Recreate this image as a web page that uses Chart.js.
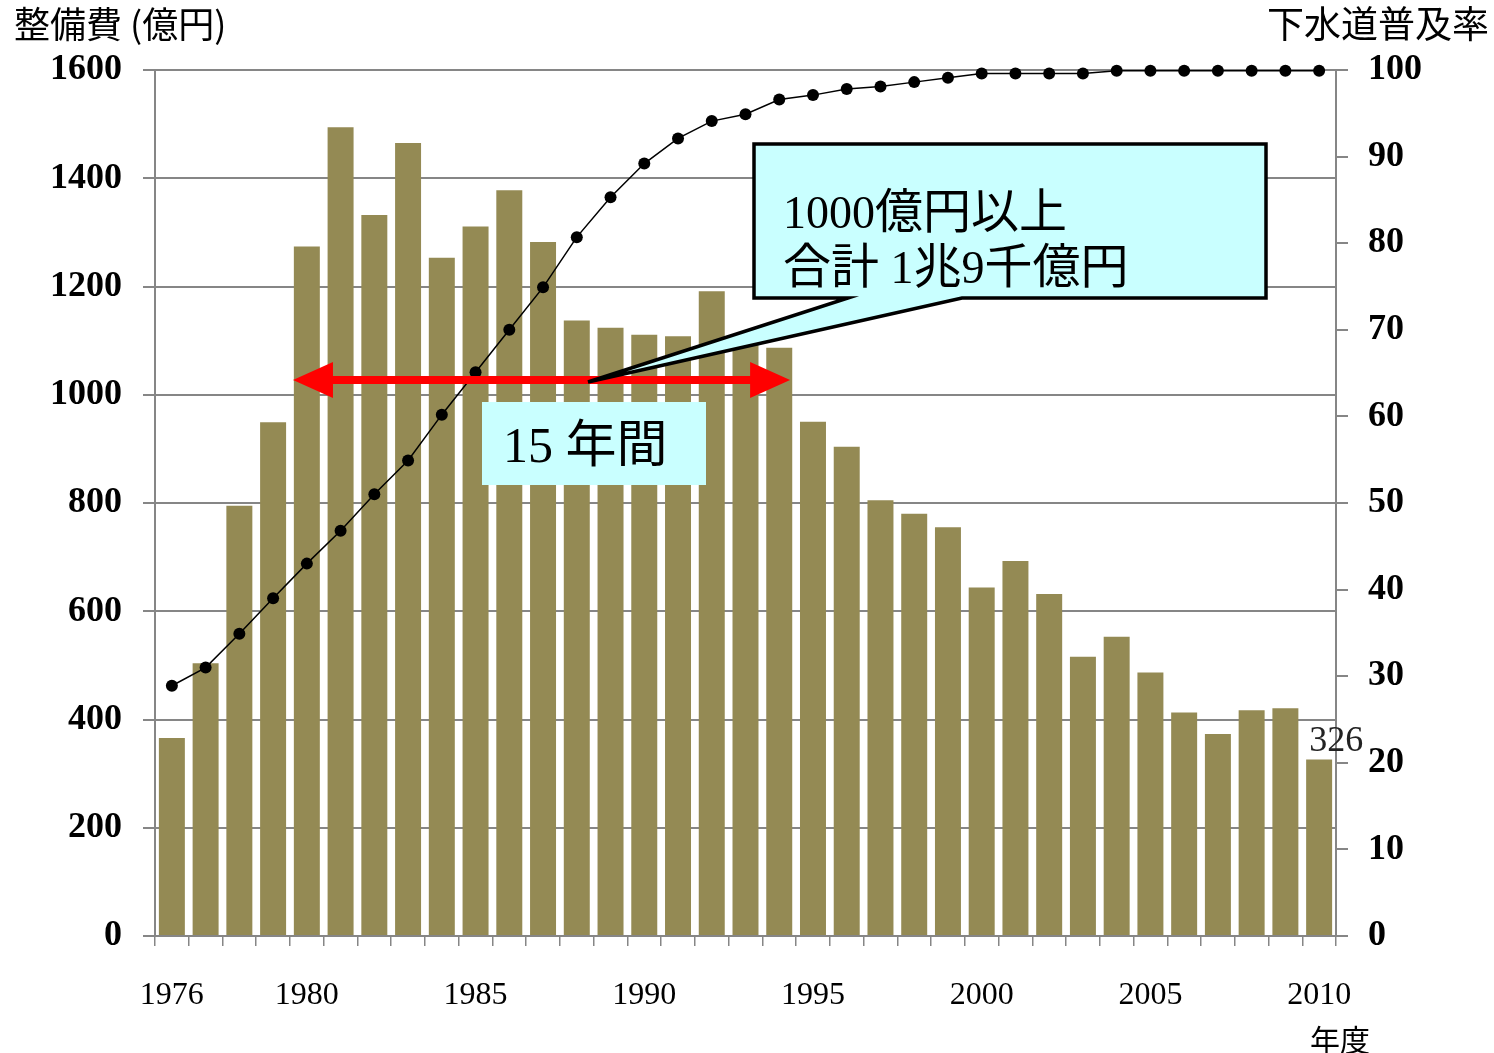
<!DOCTYPE html>
<html>
<head>
<meta charset="utf-8">
<script src="https://cdn.jsdelivr.net/npm/chart.js@4.4.1/dist/chart.umd.min.js"></script>
<style>
  html, body { margin: 0; padding: 0; background: #ffffff; }
  #wrap { width: 1494px; height: 1053px; position: relative; }
</style>
</head>
<body>
<div id="wrap"><canvas id="c" width="1494" height="1053"></canvas></div>
<script>
// Fiscal years
const years = ['1976','1977','1978','1979','1980','1981','1982','1983','1984','1985',
               '1986','1987','1988','1989','1990','1991','1992','1993','1994','1995',
               '1996','1997','1998','1999','2000','2001','2002','2003','2004','2005',
               '2006','2007','2008','2009','2010'];

// Sewer construction spending (100 million yen)
const spending = [366, 504, 795, 949, 1274, 1494, 1332, 1465, 1253, 1311,
                  1378, 1282, 1137, 1124, 1111, 1108, 1191, 1105, 1087, 950,
                  904, 805, 780, 755, 644, 693, 632, 516, 553, 487,
                  413, 373, 417, 421, 326];

// Sewer coverage rate (%)
const coverage = [28.9, 31.0, 34.9, 39.0, 43.0, 46.8, 51.0, 54.9, 60.2, 65.1,
                  70.0, 74.9, 80.7, 85.3, 89.2, 92.1, 94.1, 94.9, 96.6, 97.1,
                  97.8, 98.1, 98.6, 99.1, 99.6, 99.6, 99.6, 99.6, 99.9, 99.9,
                  99.9, 99.9, 99.9, 99.9, 99.9];

// Years that get a printed label on the x axis
const labeledYears = ['1976','1980','1985','1990','1995','2000','2005','2010'];

// Axis ranges
const spendingAxis = { min: 0, max: 1600, step: 200 };
const coverageAxis = { min: 0, max: 100, step: 10 };

const GRID = '#868686';
const BAR = '#948a54';
const CYAN = '#c9ffff';
const SERIF = '"Liberation Serif", "DejaVu Serif", serif';
const CJK = '"Noto Sans CJK JP", "Noto Sans", sans-serif';

// Draw a string mixing serif Latin digits and gothic CJK glyphs
function drawMixed(ctx, text, x, y, serifPx, cjkPx) {
  const runs = [];
  for (const ch of text) {
    const latin = /[0-9A-Za-z ]/.test(ch);
    const last = runs[runs.length - 1];
    if (last && last.latin === latin) last.s += ch;
    else runs.push({ latin, s: ch });
  }
  let cx = x;
  ctx.textAlign = 'left';
  ctx.textBaseline = 'alphabetic';
  for (const r of runs) {
    ctx.font = r.latin ? `${serifPx}px ${SERIF}` : `${cjkPx}px ${CJK}`;
    ctx.fillText(r.s, cx, y);
    cx += ctx.measureText(r.s).width;
  }
}

const decorations = {
  id: 'decorations',
  afterDatasetsDraw(chart) {
    const ctx = chart.ctx;
    const xs = chart.scales.x;
    const step = xs.getPixelForValue(1) - xs.getPixelForValue(0);

    // value label on the last bar
    const barMeta = chart.getDatasetMeta(1);
    const lastBar = barMeta.data[barMeta.data.length - 1];
    ctx.save();
    ctx.fillStyle = '#222';
    ctx.font = `36px ${SERIF}`;
    ctx.textAlign = 'center';
    ctx.textBaseline = 'alphabetic';
    ctx.fillText(String(spending[spending.length - 1]), lastBar.x + 17, lastBar.y - 9);
    ctx.restore();

    // red double arrow spanning 1980–1994
    const x1 = xs.getPixelForValue(4) - step / 2 + 3;
    const x2 = xs.getPixelForValue(18) + step / 2 - 6;
    const ay = 380;
    const headL = 40, headH = 18, shaft = 4;
    ctx.save();
    ctx.fillStyle = '#ff0000';
    ctx.beginPath();
    ctx.moveTo(x1, ay);
    ctx.lineTo(x1 + headL, ay - headH);
    ctx.lineTo(x1 + headL, ay - shaft);
    ctx.lineTo(x2 - headL, ay - shaft);
    ctx.lineTo(x2 - headL, ay - headH);
    ctx.lineTo(x2, ay);
    ctx.lineTo(x2 - headL, ay + headH);
    ctx.lineTo(x2 - headL, ay + shaft);
    ctx.lineTo(x1 + headL, ay + shaft);
    ctx.lineTo(x1 + headL, ay + headH);
    ctx.closePath();
    ctx.fill();
    ctx.restore();

    // speech-balloon callout
    ctx.save();
    ctx.fillStyle = CYAN;
    ctx.strokeStyle = '#000';
    ctx.lineWidth = 3.5;
    ctx.lineJoin = 'miter';
    ctx.beginPath();
    ctx.moveTo(754, 144);
    ctx.lineTo(1266, 144);
    ctx.lineTo(1266, 298);
    ctx.lineTo(962, 298);
    ctx.lineTo(588, 382);
    ctx.lineTo(848, 298);
    ctx.lineTo(754, 298);
    ctx.closePath();
    ctx.fill();
    ctx.stroke();
    ctx.fillStyle = '#000';
    drawMixed(ctx, '1000億円以上', 783, 228, 46, 48);
    drawMixed(ctx, '合計 1兆9千億円', 783, 283, 46, 48);
    ctx.restore();

    // duration box
    ctx.save();
    ctx.fillStyle = CYAN;
    ctx.fillRect(482, 402, 224, 83);
    ctx.fillStyle = '#000';
    drawMixed(ctx, '15 年間', 503, 462, 50, 51);
    ctx.restore();
  },
  afterDraw(chart) {
    const ctx = chart.ctx;
    ctx.save();
    ctx.fillStyle = '#000';
    ctx.font = `36px ${CJK}`;
    ctx.textBaseline = 'middle';
    ctx.textAlign = 'left';
    ctx.fillText('整備費 (億円)', 14, 24);
    ctx.font = `37px ${CJK}`;
    ctx.textAlign = 'right';
    ctx.fillText('下水道普及率', 1489, 24);
    ctx.font = `30px ${CJK}`;
    ctx.textAlign = 'center';
    ctx.fillText('年度', 1340, 1040);
    ctx.restore();
  }
};

new Chart(document.getElementById('c'), {
  data: {
    labels: years,
    datasets: [
      {
        type: 'line',
        label: '下水道普及率',
        data: coverage,
        yAxisID: 'y2',
        order: 0,
        borderColor: '#000',
        borderWidth: 1.5,
        pointRadius: 6,
        pointBackgroundColor: '#000',
        pointBorderWidth: 0,
        tension: 0,
        clip: false
      },
      {
        type: 'bar',
        label: '整備費',
        data: spending,
        yAxisID: 'y',
        order: 1,
        backgroundColor: BAR,
        borderWidth: 0,
        categoryPercentage: 1.0,
        barPercentage: 0.77
      }
    ]
  },
  options: {
    responsive: false,
    animation: false,
    devicePixelRatio: 1,
    layout: { padding: { top: 70, left: 0, right: 0, bottom: 0 } },
    plugins: { legend: { display: false }, tooltip: { enabled: false } },
    scales: {
      x: {
        type: 'category',
        offset: true,
        afterFit(s) { s.height = 117; },
        grid: { offset: true, drawOnChartArea: false, drawTicks: true, tickLength: 10, color: GRID, lineWidth: 1.5 },
        border: { display: true, color: GRID, width: 2 },
        ticks: {
          autoSkip: false,
          maxRotation: 0,
          padding: 30,
          color: '#000',
          font: { family: SERIF, size: 32 },
          callback(v, i) { return labeledYears.includes(years[i]) ? years[i] : ''; }
        }
      },
      y: {
        position: 'left',
        min: spendingAxis.min,
        max: spendingAxis.max,
        afterFit(s) { s.width = 155; },
        grid: { color: GRID, lineWidth: 2, tickLength: 12 },
        border: { display: true, color: GRID, width: 2 },
        ticks: {
          stepSize: spendingAxis.step,
          padding: 21,
          color: '#000',
          font: { family: SERIF, size: 36, weight: 'bold' },
          callback(v) { return String(v); }
        }
      },
      y2: {
        position: 'right',
        min: coverageAxis.min,
        max: coverageAxis.max,
        afterFit(s) { s.width = 158; },
        grid: { drawOnChartArea: false, color: GRID, lineWidth: 2, tickLength: 12 },
        border: { display: true, color: GRID, width: 2 },
        ticks: {
          stepSize: coverageAxis.step,
          padding: 20,
          color: '#000',
          font: { family: SERIF, size: 36, weight: 'bold' },
          callback(v) { return String(v); }
        }
      }
    }
  },
  plugins: [decorations]
});
</script>
</body>
</html>
